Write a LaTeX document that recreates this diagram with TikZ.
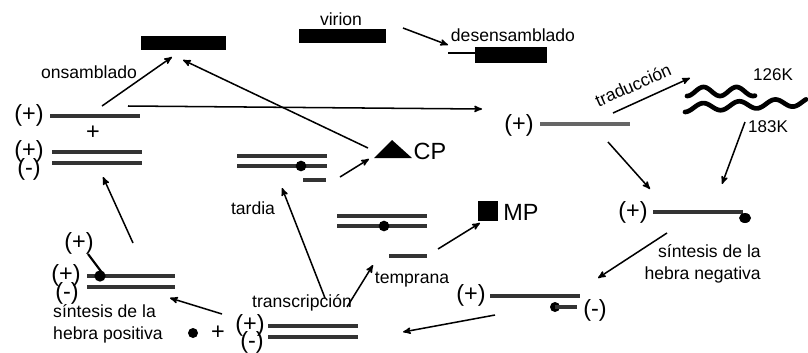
\documentclass[tikz,border=0pt]{standalone}
\usepackage{fontspec}
\setmainfont{Liberation Sans}
\usetikzlibrary{arrows}
\usetikzlibrary{positioning}

\begin{document}
\begin{tikzpicture}
[>=stealth',x=0.03cm,y=-0.03cm,
 every node/.style={inner sep=0pt},
 lbl/.style={font=\fontsize{15}{18.5}\selectfont},
 sgn/.style={font=\fontsize{20}{20}\selectfont},
 big/.style={font=\fontsize{20}{20}\selectfont},
 strand/.style={line width=2.8pt,black!80},
 bloque/.style={fill=black,minimum height=0.42cm},
 onda/.style={line width=4pt,line cap=round,line join=round},
 flecha/.style={->,line width=1.3pt}]

\useasboundingbox (0,0) rectangle (808,352);

% particulas
\node[bloque,minimum width=2.55cm] (ensam) at (183.5,43) {};
\node[bloque,minimum width=2.61cm] (vir) at (342.5,36) {};
\node[lbl] (tvir) at (341,19) {virion};
\node[bloque,minimum width=2.16cm,minimum height=0.48cm] (des) at (511,55) {};
\coordinate (desl) at (448,53);
\draw[line width=1.6pt] (desl) -- (des.west |- desl);
\node[lbl] (tdes) at (513,35) {desensamblado};
\node[lbl] (tens) at (89,72) {onsamblado};

% hebras arriba izquierda
\node[sgn] (sa) at (29,115) {(+)};
\node[sgn] (ma) at (93,133) {+};
\node[sgn] (sb) at (29,151) {(+)};
\node[sgn] (sc) at (29,169) {(-)};
\draw[strand] (50,116) -- (140,116);
\draw[strand] (52,152) -- (142,152) (52,163) -- (142,163);

% hebra (+) y traduccion
\node[sgn] (sd) at (519,125) {(+)};
\draw[strand,black!60] (540,124) -- (630,124);
\draw[onda] plot[domain=687:755,samples=50] (\x,{91.5+4.5*cos((\x-687)*10.91)});
\draw[onda] plot[domain=685:806,samples=80] (\x,{108-0.05*(\x-685)+4*cos((\x-685)*10)});
\node[font=\fontsize{14.5}{15}\selectfont] (k126) at (773,75) {126K};
\node[font=\fontsize{14.5}{15}\selectfont] (k183) at (768,127) {183K};
\node[lbl,rotate=24] (ttra) at (633,85) {traducción};

% sintesis negativa
\node[sgn] (se) at (633,212) {(+)};
\draw[strand] (653,212) -- (743,212);
\fill (745,218) ellipse [x radius=0.18cm,y radius=0.15cm];
\node[lbl,align=right,anchor=east] (tneg) at (761,264) {síntesis de la\\hebra negativa};

\node[sgn] (sf) at (471,295) {(+)};
\draw[strand] (490,296) -- (580,296);
\fill (555,307) circle (0.15cm);
\draw[strand] (555,307) -- (577,307);
\node[sgn] (sg) at (595,310) {(-)};

% abajo
\node[sgn] (sh) at (250,325) {(+)};
\node[sgn] (si) at (252,342) {(-)};
\draw[strand] (268,326) -- (358,326) (268,337) -- (358,337);
\fill (193,333) circle (0.15cm);
\node[sgn] (mb) at (218,333) {+};
\node[lbl] (ttrans) at (302,303) {transcripción};

% sintesis positiva
\node[sgn] (sj) at (79,243) {(+)};
\node[sgn] (sk) at (66,275) {(+)};
\node[sgn] (sl) at (67,293) {(-)};
\draw[strand] (87,276) -- (175,276) (87,287) -- (175,287);
\fill (100,276) circle (0.17cm);
\draw[line width=1.8pt] (88,254) -- (103,274);
\node[lbl,align=left,anchor=west] (tpos) at (53,324) {síntesis de la\\hebra positiva};

% CP
\draw[strand] (237,156) -- (327,156) (237,166) -- (327,166) (303,180) -- (326,180);
\fill (301,166) circle (0.16cm);
\fill (374,158) -- (392,140) -- (412,158) -- cycle;
\node[big] (tcp) at (430,151) {CP};
\node[lbl] (ttar) at (253,208) {tardia};

% MP
\draw[strand] (337,216) -- (427,216) (337,226) -- (427,226) (389,256) -- (427,256);
\fill (384,226) circle (0.16cm);
\node[fill=black,minimum size=0.6cm] (mp) at (488,211) {};
\node[big] (tmp) at (521,212) {MP};
\node[lbl] (ttem) at (412,280) {temprana};

% flechas
\coordinate (ons0) at (102,106); \coordinate (ons1) at (172,57);
\coordinate (cpe0) at (368,148); \coordinate (cpe1) at (183,60);
\coordinate (lar0) at (128,106); \coordinate (lar1) at (482,109);
\coordinate (vir0) at (403,28);  \coordinate (vir1) at (448,45);
\coordinate (tra0) at (613,113); \coordinate (tra1) at (690,78);
\coordinate (pro0) at (745,122); \coordinate (pro1) at (722,184);
\coordinate (neg0) at (608,142); \coordinate (neg1) at (650,189);
\coordinate (sin0) at (667,233); \coordinate (sin1) at (598,278);
\coordinate (dob0) at (495,315); \coordinate (dob1) at (403,332);
\coordinate (pos0) at (222,314); \coordinate (pos1) at (170,298);
\coordinate (sub0) at (133,243); \coordinate (sub1) at (103,177);
\coordinate (tar0) at (325,298); \coordinate (tar1) at (282,188);
\coordinate (tem0) at (347,307); \coordinate (tem1) at (373,265);
\coordinate (mpa0) at (438,249); \coordinate (mpa1) at (480,223);
\coordinate (cpa0) at (340,177); \coordinate (cpa1) at (369,159);

\foreach \a in {ons,cpe,lar,vir,tra,pro,neg,sin,dob,pos,sub,tar,tem,mpa,cpa}
\draw[flecha] (\a0) -- (\a1);

\end{tikzpicture}
\end{document}
